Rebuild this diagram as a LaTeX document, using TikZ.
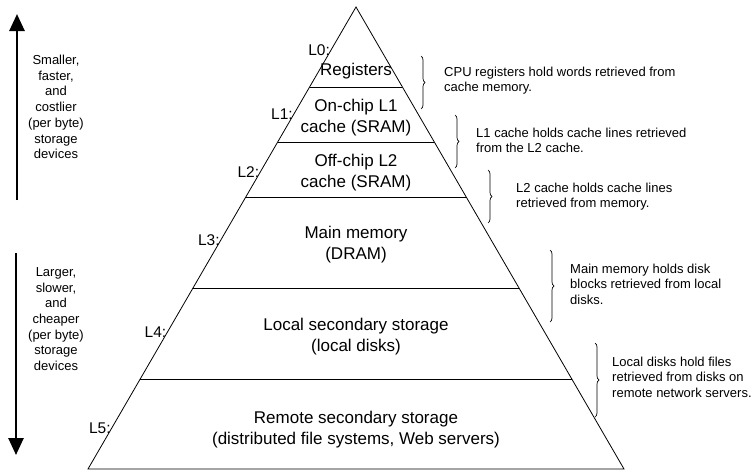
\documentclass[tikz,border=0pt]{standalone}
\usepackage{fontspec}
\setmainfont{Liberation Sans}
\usetikzlibrary{calc,arrows.meta,decorations.pathreplacing}
\begin{document}
\begin{tikzpicture}[x=1pt,y=-1pt,
  tier/.style={align=center,font=\fontsize{17}{21}\selectfont,inner sep=0pt},
  lvl/.style={anchor=east,font=\fontsize{15.5}{18}\selectfont,inner sep=1pt},
  note/.style={anchor=west,align=left,font=\fontsize{13}{15.5}\selectfont,inner sep=0pt},
  side/.style={align=center,font=\fontsize{13}{15.7}\selectfont,inner sep=0pt},
  curly/.style={decorate,decoration={brace,amplitude=4pt},line width=0.7pt},
  bigarrow/.style={line width=2.6pt,-{Triangle[width=15pt,length=17pt]}}]
  \useasboundingbox (0,0) rectangle (755,471);
  % pyramid outline and tier lines
  \coordinate (top) at (356,7);
  \coordinate (bl) at (88,469);
  \coordinate (br) at (624,469);
  \draw[line width=0.8pt] (top)--(bl)--(br)--cycle;
  \foreach \y in {87,142,197,288,379}
    \draw[line width=0.8pt] ($(top)!{(\y-7)/462}!(bl)$) -- ($(top)!{(\y-7)/462}!(br)$);
  % level labels
  \foreach \i/\y in {0/50,1/114,2/172,3/240,4/332,5/428}
    \node[lvl] (L\i) at ($(top)!{(\y-7)/462}!(bl)$) {L\i:};
  % tier texts
  \node[tier] (reg) at (356,71) {Registers};
  \node[tier] (onchip) at (356,118) {On-chip L1\\cache (SRAM)};
  \node[tier] (offchip) at (356,173) {Off-chip L2\\cache (SRAM)};
  \node[tier] (dram) at (356,245) {Main memory\\(DRAM)};
  \node[tier] (disks) at (356,337) {Local secondary storage\\(local disks)};
  \node[tier] (remote) at (356,430) {Remote secondary storage\\(distributed file systems, Web servers)};
  % braces and notes
  \draw[curly] (421,56) -- (421,109);
  \node[note] (n0) at (444,80.5) {CPU registers hold words retrieved from\\cache memory.};
  \draw[curly] (455,115) -- (455,168);
  \node[note] (n1) at (476,140.5) {L1 cache holds cache lines retrieved\\from the L2 cache.};
  \draw[curly] (488,170) -- (488,223);
  \node[note] (n2) at (516,196.5) {L2 cache holds cache lines\\retrieved from memory.};
  \draw[curly] (550,250) -- (550,322);
  \node[note] (n3) at (570,284) {Main memory holds disk\\blocks retrieved from local\\disks.};
  \draw[curly] (595,343) -- (595,417);
  \node[note] (n4) at (612,377) {Local disks hold files\\retrieved from disks on\\remote network servers.};
  % speed / cost arrows
  \coordinate (upfoot) at (17,200);
  \coordinate (uptip) at (17,14);
  \draw[bigarrow] (upfoot) -- (uptip);
  \node[side] (fast) at (56,107) {Smaller,\\faster,\\and\\costlier\\(per byte)\\storage\\devices};
  \coordinate (dnfoot) at (16,253);
  \coordinate (dntip) at (16,455);
  \draw[bigarrow] (dnfoot) -- (dntip);
  \node[side] (slow) at (56,319) {Larger,\\slower,\\and\\cheaper\\(per byte)\\storage\\devices};
\end{tikzpicture}
\end{document}
